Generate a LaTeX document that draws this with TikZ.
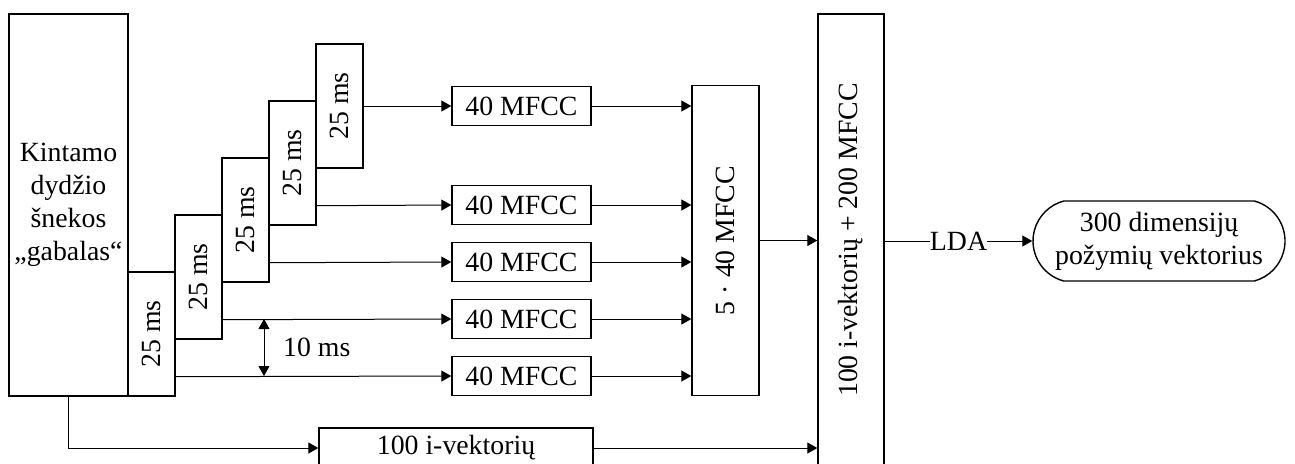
\documentclass[tikz,border=0pt]{standalone}
\usepackage{fontspec}
\setmainfont{Liberation Serif}
\usepackage{graphicx}
\usepackage{tikz}
\usetikzlibrary{arrows.meta,calc,positioning,shapes.misc}

\tikzset{
  blk/.style={draw,line width=.7pt,inner sep=0pt,align=center},
  arr/.style={line width=.5pt,-{Triangle[length=5pt,width=5.5pt]}},
  dbl/.style={line width=.5pt,{Triangle[length=5pt,width=5.5pt]}-{Triangle[length=5pt,width=5.5pt]}},
}

\begin{document}
\begin{tikzpicture}[x=.5pt,y=-.5pt,font=\fontsize{13.9pt}{16.5pt}\selectfont]
    \useasboundingbox (0,0) rectangle (1295,463);
    % speech chunk
    \node[blk,minimum width=59.5pt,minimum height=191pt] (src) at (68.5,205) {Kintamo\\dydžio\\šnekos\\„gabalas“};
    % 25 ms frames, shifted by 10 ms
    \foreach \k in {1,...,5}
      \node[blk,minimum width=23.5pt,minimum height=62pt] (f\k) at ({151.5+47*(\k-1)},{334-57*(\k-1)}) {\rotatebox{90}{25 ms}};
    \foreach \y [count=\j] in {106,205,262,319,376}
      \node[blk,minimum width=69.5pt,minimum height=19.5pt] (m\j) at (521.5,\y) {40 MFCC};
    \node[blk,minimum width=33.5pt,minimum height=155pt] (cat) at (725.5,240.5) {\rotatebox{90}{5 · 40 MFCC}};
    \node[blk,minimum width=33pt,minimum height=226pt] (join) at (851,240) {\rotatebox{90}{100 i-vektorių + 200 MFCC}};
    \node[blk,minimum width=137pt,minimum height=20pt] (ivec) at (456,448) {100 i-vektorių};
    \node[blk,rounded rectangle,rounded rectangle arc length=150,minimum width=126pt,minimum height=40pt] (out) at (1159,241) {300 dimensijų\\požymių vektorius};
    % frames -> MFCC
    \draw[arr] (f5.east) -- (m1.west);
    \foreach \k/\j in {4/2,3/3,2/4,1/5}
      \draw[arr] ($(f\k.south east)+(0,-20)$) -- (m\j.west);
    \coordinate (d1) at (264,319);
    \coordinate (d2) at (264,376);
    \draw[dbl] (d1) -- node[right=6pt]{10 ms} (d2);
    % MFCC -> joined vector
    \foreach \j in {1,...,5}
      \draw[arr] (m\j.east) -- (m\j.east -| cat.west);
    \draw[arr] (cat.east) -- (cat.east -| join.west);
    \draw[arr] (src.south) |- (ivec.west);
    \draw[arr] (ivec.east) -- (ivec.east -| join.west);
    \draw[arr] (join.east |- out.west) -- node[fill=white,inner sep=0pt]{LDA} (out.west);
  \end{tikzpicture}
\end{document}
